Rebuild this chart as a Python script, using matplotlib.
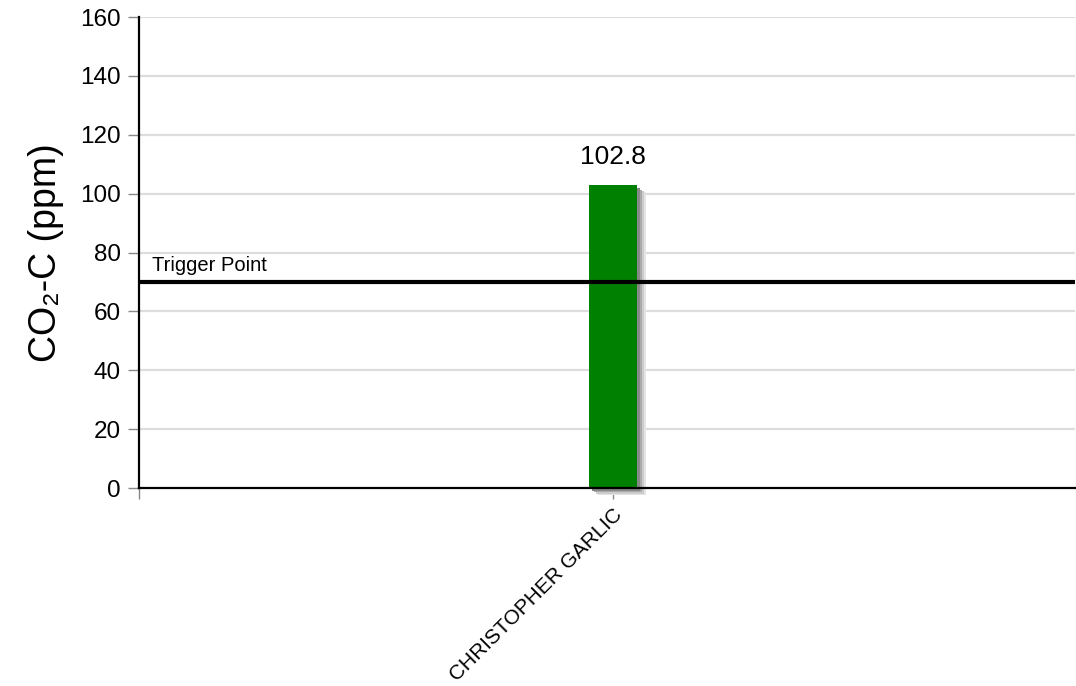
import numpy as np
import matplotlib.pyplot as plt
import matplotlib.patheffects as pe

plt.rcParams['font.family'] = ['Liberation Sans', 'DejaVu Sans']

samples = ['CHRISTOPHER GARLIC']
co2_values = [102.8]
trigger_value = 70
trigger_label = 'Trigger Point'
y_ticks = [0, 20, 40, 60, 80, 100, 120, 140, 160]

fig = plt.figure(figsize=(10.76, 6.86), dpi=100)
ax = fig.add_axes([0.1292, 0.2886, 0.8699, 0.6866])

x = np.arange(len(samples))
xmin, xmax = -0.5064, 0.4936
ax.set_xlim(xmin, xmax)
ax.set_ylim(0, 160)

for y in y_ticks[1:]:
    ax.axhline(y, color='#dddddd', lw=1.6, zorder=0)

bars = ax.bar(x, co2_values, width=0.0513, color='#008000', zorder=3, clip_on=False)
for b in bars:
    b.set_path_effects([
        pe.SimplePatchShadow(offset=(6.5, -5), shadow_rgbFace='#e4e4e4', alpha=1),
        pe.SimplePatchShadow(offset=(5, -4), shadow_rgbFace='#cccccc', alpha=1),
        pe.SimplePatchShadow(offset=(3.5, -3), shadow_rgbFace='#aaaaaa', alpha=1),
        pe.SimplePatchShadow(offset=(2, -2), shadow_rgbFace='#888888', alpha=1),
        pe.Normal()])
    ax.annotate(f'{b.get_height():.1f}', (b.get_x() + b.get_width() / 2, b.get_height()),
                xytext=(0, 12), textcoords='offset points', ha='center', va='bottom',
                fontsize=19)

ax.axhline(trigger_value, color='black', lw=3, zorder=4)
ax.annotate(trigger_label, (xmin, trigger_value), xytext=(9.5, 5), textcoords='offset points',
            ha='left', va='bottom', fontsize=14.5)

ax.set_yticks(y_ticks)
ax.set_xticks([xmin, 0])
ax.set_xticklabels(['', samples[0]], rotation=45, ha='right', rotation_mode='anchor',
                   fontsize=15)
ax.tick_params(axis='y', labelsize=17.5, length=8, color='#888888', width=1, pad=5)
ax.tick_params(axis='x', length=8, color='#888888', width=1, pad=4)

ax.set_ylabel('CO₂-C (ppm)', fontsize=27, labelpad=12)

for s in ['top', 'right']:
    ax.spines[s].set_visible(False)
for s in ['left', 'bottom']:
    ax.spines[s].set_linewidth(1.6)
    ax.spines[s].set_zorder(5)

fig.savefig('out.png', dpi=100)
